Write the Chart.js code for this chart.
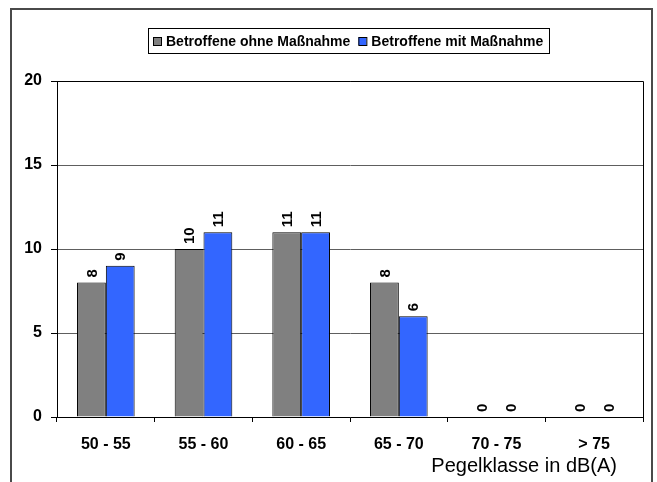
<!DOCTYPE html>
<html>
<head>
<meta charset="utf-8">
<script src="https://cdn.jsdelivr.net/npm/chart.js@4"></script>
<style>
  body { margin: 0; background: #fff; }
  #wrap { width: 657px; height: 482px; position: relative; }
</style>
</head>
<body>
<div id="wrap"><canvas id="chart"></canvas></div>
<script>
const categories = ['50 - 55', '55 - 60', '60 - 65', '65 - 70', '70 - 75', '> 75']
const ohneMassnahme = [8, 10, 11, 8, 0, 0]
const mitMassnahme = [9, 11, 11, 6, 0, 0]
const seriesNames = ['Betroffene ohne Maßnahme', 'Betroffene mit Maßnahme']
const seriesColors = ['#808080', '#3366ff']
const yMax = 20
const yStep = 5
const xTitle = 'Pegelklasse in dB(A)'

const FONT = '"Liberation Sans", Arial, sans-serif'

// frame, plot border, legend box, value labels and axis title
const decorations = {
  id: 'decorations',
  afterDraw(chart) {
    const ctx = chart.ctx
    const area = chart.chartArea
    ctx.save()

    // outer frame (open at the bottom)
    ctx.strokeStyle = '#4a4a4a'
    ctx.lineWidth = 2
    ctx.beginPath()
    ctx.moveTo(11, 490)
    ctx.lineTo(11, 9)
    ctx.lineTo(652, 9)
    ctx.lineTo(652, 490)
    ctx.stroke()

    // plot area top and right edge
    ctx.strokeStyle = '#000'
    ctx.lineWidth = 1
    ctx.beginPath()
    ctx.moveTo(area.left, Math.round(area.top) + 0.5)
    ctx.lineTo(Math.round(area.right) + 0.5, Math.round(area.top) + 0.5)
    ctx.lineTo(Math.round(area.right) + 0.5, area.bottom)
    ctx.stroke()

    // legend
    ctx.fillStyle = '#fff'
    ctx.fillRect(148, 28, 401, 25)
    ctx.strokeStyle = '#000'
    ctx.strokeRect(148.5, 28.5, 401, 25)
    ctx.font = 'bold 14px ' + FONT
    ctx.textBaseline = 'middle'
    ctx.textAlign = 'left'
    let lx = 153
    seriesNames.forEach((name, i) => {
      ctx.fillStyle = seriesColors[i]
      ctx.fillRect(lx, 37, 8, 8)
      ctx.strokeStyle = '#000'
      ctx.strokeRect(lx + 0.5, 37.5, 8, 8)
      ctx.fillStyle = '#000'
      ctx.fillText(name, lx + 13, 42)
      lx += 13 + ctx.measureText(name).width + 8
    })

    // value labels, rotated, above each bar
    ctx.font = 'bold 15px ' + FONT
    ctx.fillStyle = '#000'
    chart.data.datasets.forEach((ds, di) => {
      chart.getDatasetMeta(di).data.forEach((bar, i) => {
        ctx.save()
        ctx.translate(bar.x, bar.y - 5)
        ctx.rotate(-Math.PI / 2)
        ctx.textAlign = 'left'
        ctx.textBaseline = 'middle'
        ctx.fillText(String(ds.data[i]), 0, 1)
        ctx.restore()
      })
    })

    // x axis title
    ctx.font = '20px ' + FONT
    ctx.textAlign = 'right'
    ctx.textBaseline = 'alphabetic'
    ctx.fillText(xTitle, 617, 472)
    ctx.restore()
  }
}

new Chart(document.getElementById('chart'), {
  type: 'bar',
  data: {
    labels: categories,
    datasets: [
      {
        label: seriesNames[0],
        data: ohneMassnahme,
        backgroundColor: seriesColors[0],
        borderColor: '#000',
        borderWidth: 1,
        categoryPercentage: 0.59,
        barPercentage: 1.0,
      },
      {
        label: seriesNames[1],
        data: mitMassnahme,
        backgroundColor: seriesColors[1],
        borderColor: '#000',
        borderWidth: 1,
        categoryPercentage: 0.59,
        barPercentage: 1.0,
      },
    ],
  },
  options: {
    responsive: true,
    maintainAspectRatio: false,
    animation: false,
    layout: { padding: { top: 81, right: 14, left: 0, bottom: 0 } },
    plugins: {
      legend: { display: false },
      tooltip: { enabled: false },
    },
    scales: {
      x: {
        offset: true,
        afterFit: scale => { scale.height = 65 },
        grid: {
          offset: true,
          drawOnChartArea: false,
          tickLength: 5,
          tickColor: '#000',
        },
        border: { color: '#000', width: 1 },
        ticks: {
          color: '#000',
          font: { family: FONT, size: 16, weight: 'bold' },
          padding: 13,
          maxRotation: 0,
        },
      },
      y: {
        min: 0,
        max: yMax,
        afterFit: scale => { scale.width = 57 },
        grid: {
          color: '#5e5e5e',
          tickColor: '#000',
          tickLength: 6,
        },
        border: { color: '#000', width: 1 },
        ticks: {
          stepSize: yStep,
          color: '#000',
          font: { family: FONT, size: 16, weight: 'bold' },
          padding: 9,
        },
      },
    },
  },
  plugins: [decorations],
})
</script>
</body>
</html>
